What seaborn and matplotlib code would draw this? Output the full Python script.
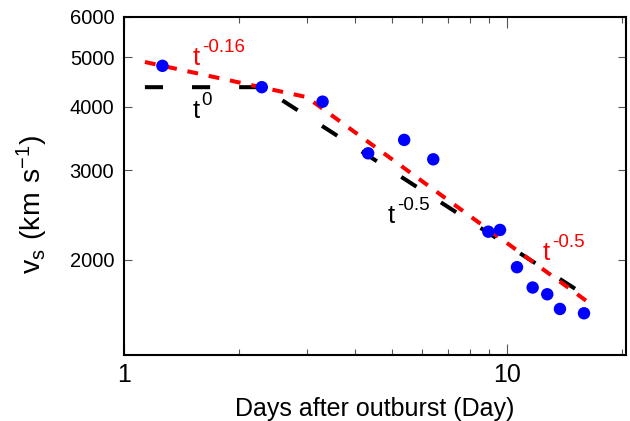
import matplotlib
matplotlib.use("Agg")
import seaborn as sns
import matplotlib.pyplot as plt
from matplotlib.ticker import FixedLocator, LogLocator, NullLocator, FuncFormatter, NullFormatter

# measured shock velocities
days = [1.26, 2.29, 3.30, 4.34, 5.39, 6.42, 8.94, 9.59, 10.62, 11.67, 12.74, 13.75, 15.89]
vs = [4810, 4367, 4090, 3238, 3440, 3151, 2271, 2289, 1934, 1764, 1711, 1601, 1570]

# power-law guides (vertices)
black_x = [1.134, 2.29, 16.27]
black_y = [4367, 4367, 1690]
red_x = [1.134, 3.0, 16.27]
red_y = [4894, 4175, 1652]

sns.set_style("ticks", {'axes.edgecolor': 'black', 'text.color': 'black',
                        'xtick.color': 'black', 'ytick.color': 'black',
                        'axes.labelcolor': 'black'})
plt.rcParams['font.family'] = ['Liberation Sans', 'DejaVu Sans']
plt.rcParams['mathtext.default'] = 'regular'

fig = plt.figure(figsize=(6.3, 4.21), dpi=100)
ax = fig.add_axes([0.1968, 0.1568, 0.7968, 0.8029])

sns.lineplot(x=black_x, y=black_y, color='black', lw=2.9, linestyle=(0, (4.5, 7.2)),
             sort=False, estimator=None, ax=ax)
sns.lineplot(x=red_x, y=red_y, color='red', lw=2.9, linestyle=(0, (2.7, 2.7)),
             sort=False, estimator=None, ax=ax)
sns.scatterplot(x=days, y=vs, color='blue', s=80, edgecolor='none', zorder=3, ax=ax)

ax.set_xscale('log')
ax.set_yscale('log')
ax.set_xlim(1, 20.45)
ax.set_ylim(1300, 6000)

ax.xaxis.set_major_locator(LogLocator(base=10))
ax.xaxis.set_minor_locator(LogLocator(base=10, subs=range(2, 10)))
ax.xaxis.set_major_formatter(FuncFormatter(lambda v, p: '%g' % v))
ax.xaxis.set_minor_formatter(NullFormatter())
ax.yaxis.set_major_locator(FixedLocator([2000, 3000, 4000, 5000, 6000]))
ax.yaxis.set_minor_locator(NullLocator())
ax.yaxis.set_major_formatter(FuncFormatter(lambda v, p: '%d' % v))

ax.tick_params(which='both', direction='in', top=True, right=True, width=0.8, color='#555555')
ax.tick_params(axis='x', which='major', length=8, labelsize=18, pad=6)
ax.tick_params(axis='x', which='minor', length=4)
ax.tick_params(axis='y', which='major', length=6, labelsize=14.5, pad=7)
for s in ax.spines.values():
    s.set_linewidth(1.5)

ax.set_xlabel('Days after outburst (Day)', fontsize=18, labelpad=7)
ax.set_ylabel(r'$v_s\ (km\ s^{-1})$', fontsize=20.5)
ax.yaxis.set_label_coords(-0.148, 0.445)


def power_label(x, y, expo, color):
    ax.text(x, y, 't', color=color, fontsize=18.5, va='baseline')
    ax.annotate(expo, xy=(x, y), xytext=(6.3, 9.5), textcoords='offset points',
                color=color, fontsize=13.5, va='baseline')


power_label(1.514, 4827, '-0.16', 'red')
power_label(1.514, 3800, '0', 'black')
power_label(4.89, 2362, '-0.5', 'black')
power_label(12.42, 2000, '-0.5', 'red')

fig.savefig('out.png', dpi=100)
